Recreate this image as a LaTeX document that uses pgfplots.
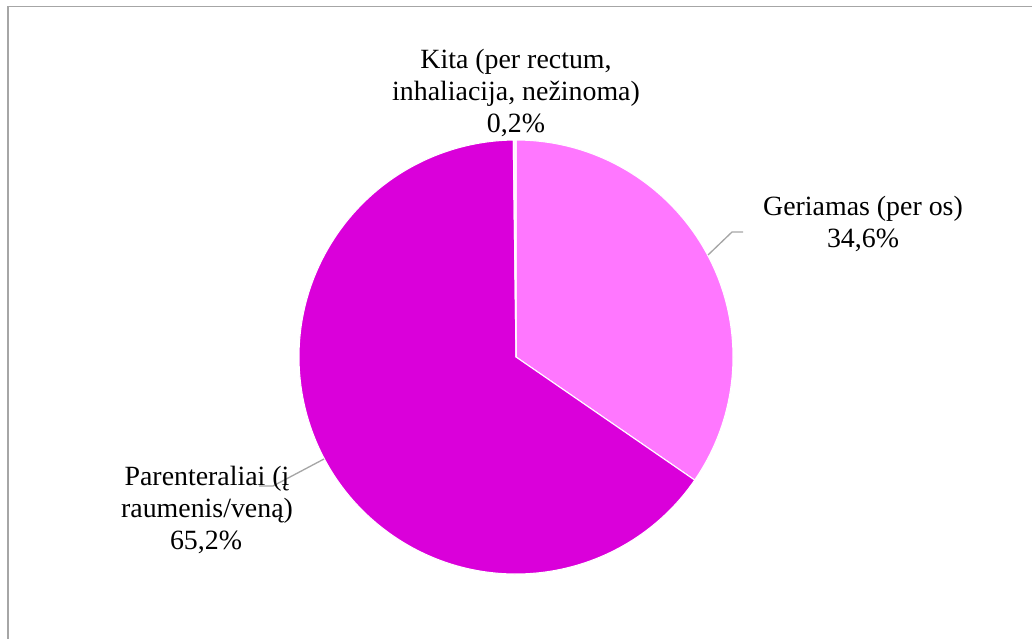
\documentclass[border=0pt]{standalone}
\usepackage{fontspec}
\setmainfont{Liberation Serif}
\usepackage{pgfplots}
\usepackage{pgfplotstable}
\pgfplotsset{compat=1.18}
\definecolor{pieA}{HTML}{FF77FF}
\definecolor{pieB}{HTML}{DA00DA}
\definecolor{pieC}{HTML}{FFF0FF}
\definecolor{frame}{HTML}{A6A6A6}

% shares in percent, clockwise from 12 o'clock
\pgfplotstableread[col sep=comma]{
label,value
Geriamas,34.6
Parenteraliai,65.2
Kita,0.2
}\piedata

\begin{document}
\begin{tikzpicture}
\begin{axis}[
    width=774pt, height=479.25pt,
    scale only axis,
    xmin=0, xmax=1032, ymin=0, ymax=639,
    y dir=reverse,
    hide axis,
    clip=false,
]
% frame (only top and left edges show)
\addplot[frame, line width=1.2pt, forget plot] coordinates {(8,639) (8,6.5) (1032,6.5)};

\pgfplotsextra{
  \def\R{162.75pt}
  \xdef\cur{90}
  \foreach \i/\col in {0/pieA,1/pieB,2/pieC} {
    \pgfplotstablegetelem{\i}{value}\of\piedata
    \pgfmathsetmacro\nxt{\cur - 3.6*\pgfplotsretval}
    \fill[\col, draw=white, line width=0.8pt, line join=round]
      (axis cs:516,357) -- ++(\cur:\R) arc[start angle=\cur, end angle=\nxt, radius=\R] -- cycle;
    \xdef\cur{\nxt}
  }
}

% leader lines
\addplot[frame, line width=1pt] coordinates {(708,255) (732,232) (743,232)};
\addplot[frame, line width=1pt] coordinates {(324,459) (273,486) (259,486)};

% labels
\begin{scope}[every node/.style={anchor=base, inner sep=0pt, font=\fontsize{20.9}{24}\selectfont}]
\node at (axis cs:516,68)  {Kita (per rectum,};
\node at (axis cs:516,100) {inhaliacija, nežinoma)};
\node at (axis cs:516,132) {0,2\%};
\node at (axis cs:863,215) {Geriamas (per os)};
\node at (axis cs:863,247) {34,6\%};
\node at (axis cs:207,485) {Parenteraliai (į};
\node at (axis cs:207,517) {raumenis/veną)};
\node at (axis cs:206,549) {65,2\%};
\end{scope}
\end{axis}
\pgfresetboundingbox
\path[use as bounding box] (current axis.south west) rectangle (current axis.north east);
\end{tikzpicture}
\end{document}
